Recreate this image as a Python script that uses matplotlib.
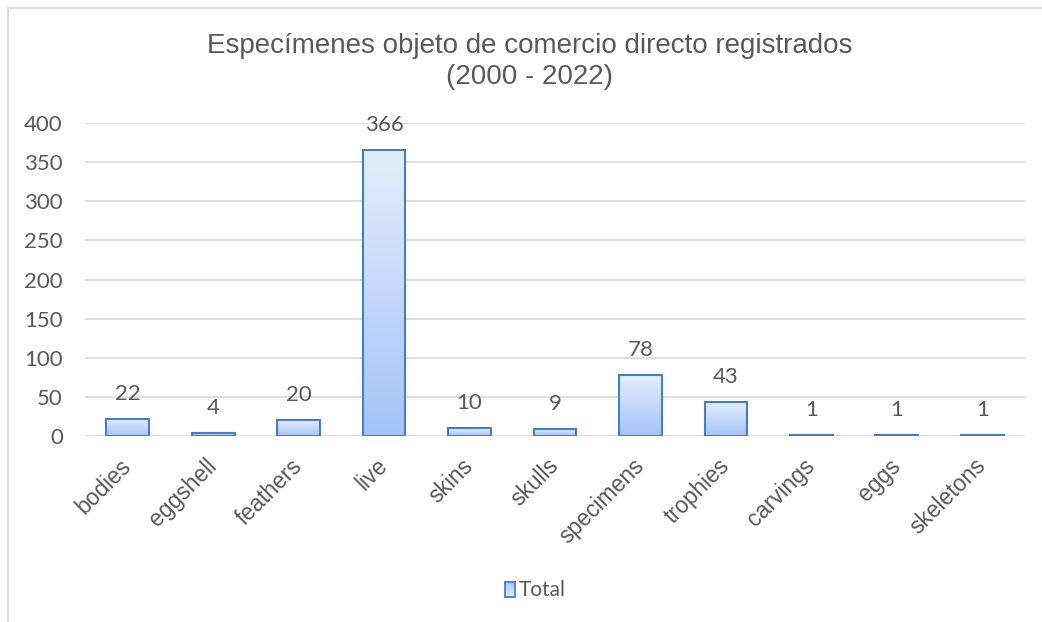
import numpy as np
import matplotlib.pyplot as plt
from matplotlib.colors import LinearSegmentedColormap
from matplotlib.patches import Rectangle

# Data
categories = ['bodies', 'eggshell', 'feathers', 'live', 'skins', 'skulls',
              'specimens', 'trophies', 'carvings', 'eggs', 'skeletons']
totals = [22, 4, 20, 366, 10, 9, 78, 43, 1, 1, 1]
yticks = [0, 50, 100, 150, 200, 250, 300, 350, 400]

grey = '#595959'
edge = '#4a7ebb'
cmap = LinearSegmentedColormap.from_list('grad', ['#a4c4f8', '#e4eefc'])

fig = plt.figure(figsize=(10.42, 6.22), dpi=100)

# Chart frame
fig.patches.append(Rectangle((8 / 1042, -0.1), 1.2, 1.1 - 8 / 622,
                             transform=fig.transFigure, fill=False,
                             edgecolor='#d9d9d9', linewidth=1.2))

ax = fig.add_axes([85 / 1042, 1 - 436 / 622, 940 / 1042, 313 / 622])
x = np.arange(len(categories))
bars = ax.bar(x, totals, width=0.5, color='none', edgecolor=edge, linewidth=1.5, zorder=3)

# gradient fill inside each bar
grad = np.linspace(0, 1, 256).reshape(-1, 1)
for b in bars:
    bx, by = b.get_x(), b.get_y()
    w, h = b.get_width(), b.get_height()
    im = ax.imshow(grad, cmap=cmap, origin='lower', aspect='auto',
                   extent=[bx, bx + w, by, by + h], zorder=2)
    im.set_clip_path(b)

ax.set_xlim(-0.5, len(categories) - 0.5)
ax.set_ylim(0, 400)
ax.set_yticks(yticks)
ax.yaxis.grid(True, color='#d9d9d9', linewidth=1.2, zorder=0)
ax.set_axisbelow(True)
for s in ax.spines.values():
    s.set_visible(False)
ax.tick_params(length=0)
ax.tick_params(axis='y', pad=16)
for lbl in ax.get_yticklabels():
    lbl.set_fontfamily('Lato')
    lbl.set_fontsize(16)
    lbl.set_color(grey)
ax.set_xticks(x)
ax.set_xticklabels(categories, rotation=45, ha='right', va='center',
                   rotation_mode='anchor', fontsize=16.5, color=grey,
                   family='Liberation Sans')
ax.tick_params(axis='x', pad=19)

for xi, v in zip(x, totals):
    ax.annotate(str(v), (xi, v), xytext=(0, 18), textcoords='offset points',
                ha='center', va='center', fontsize=16, color=grey, family='Lato')

fig.text(530 / 1042, 1 - 46 / 622, 'Especímenes objeto de comercio directo registrados',
         ha='center', va='center', fontsize=20, color=grey, family='Liberation Sans')
fig.text(530 / 1042, 1 - 77 / 622, '(2000 - 2022)',
         ha='center', va='center', fontsize=20, color=grey, family='Liberation Sans')

# legend
lax = fig.add_axes([0, 0, 1, 1], facecolor='none')
lax.set_axis_off()
sq = Rectangle((505, 582), 10, 15, facecolor='none', edgecolor=edge, linewidth=1.3, zorder=3)
lax.add_patch(sq)
im = lax.imshow(grad, cmap=cmap, origin='upper', aspect='auto',
                extent=[505, 515, 597, 582], zorder=2)
im.set_clip_path(sq)
lax.set_xlim(0, 1042)
lax.set_ylim(622, 0)
lax.text(519, 590, 'Total', ha='left', va='center', fontsize=15, color=grey, family='Lato')

fig.savefig('out.png', dpi=100)
